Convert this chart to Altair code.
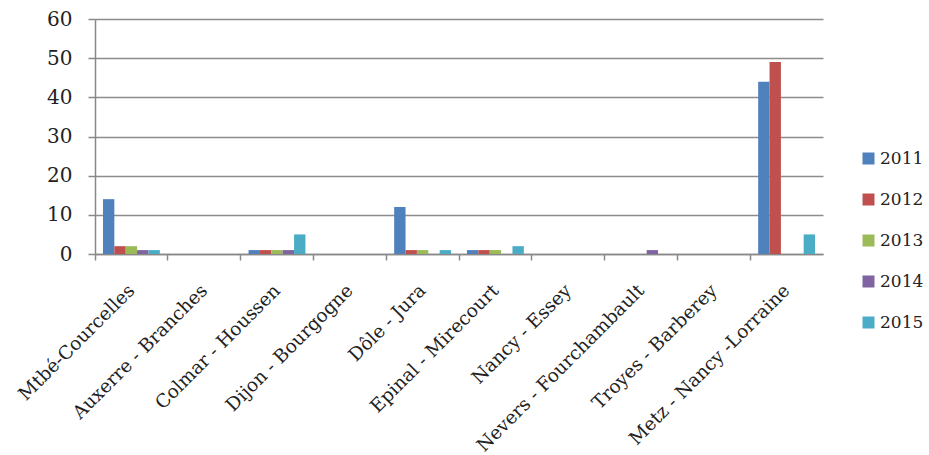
import altair as alt
import pandas as pd

categories = ["Mtbé-Courcelles", "Auxerre - Branches", "Colmar - Houssen", "Dijon - Bourgogne",
              "Dôle - Jura", "Epinal - Mirecourt", "Nancy - Essey", "Nevers - Fourchambault",
              "Troyes - Barberey", "Metz - Nancy -Lorraine"]
years = ["2011", "2012", "2013", "2014", "2015"]
v2011 = [14, 0, 1, 0, 12, 1, 0, 0, 0, 44]
v2012 = [2, 0, 1, 0, 1, 1, 0, 0, 0, 49]
v2013 = [2, 0, 1, 0, 1, 1, 0, 0, 0, 0]
v2014 = [1, 0, 1, 0, 0, 0, 0, 1, 0, 0]
v2015 = [1, 0, 5, 0, 1, 2, 0, 0, 0, 5]
colors = ["#4F81BD", "#C0504D", "#9BBB59", "#8064A2", "#4BACC6"]

rows = []
for y, vals in zip(years, [v2011, v2012, v2013, v2014, v2015]):
    for c, v in zip(categories, vals):
        rows.append({"cat": c, "year": y, "value": v})
df = pd.DataFrame(rows)

FONT = "DejaVu Serif"

chart = alt.Chart(df).mark_bar().encode(
    x=alt.X("cat:N", sort=categories, title=None,
            scale=alt.Scale(paddingInner=0, paddingOuter=0),
            axis=alt.Axis(labelAngle=-45, labelAlign="right", labelBaseline="middle",
                          labelFont=FONT, labelFontSize=18.5, labelColor="#222",
                          bandPosition=0, tickSize=6, tickColor="#888", domainColor="#888",
                          domainWidth=1.5, tickWidth=1.5, labelPadding=27, grid=False,
                          labelOverlap=False, labelLimit=0)),
    xOffset=alt.XOffset("year:N", scale=alt.Scale(paddingOuter=0.7, paddingInner=0)),
    y=alt.Y("value:Q", title=None, scale=alt.Scale(domain=[0, 60], nice=False),
            axis=alt.Axis(values=[0, 10, 20, 30, 40, 50, 60], labelFont=FONT, labelFontSize=20,
                          labelColor="#222", tickSize=7, tickColor="#888", tickWidth=1.5,
                          domainColor="#888", domainWidth=1.5, gridColor="#8c8c8c",
                          gridWidth=1.5, labelPadding=16)),
    color=alt.Color("year:N", scale=alt.Scale(domain=years, range=colors),
                    legend=alt.Legend(title=None, orient="none", legendX=765, legendY=131,
                                      symbolType="square", symbolSize=144, symbolStrokeWidth=0,
                                      labelFont=FONT, labelFontSize=17, labelColor="#222",
                                      rowPadding=23, padding=0, labelOffset=3)),
).properties(
    width=728, height=235,
    autosize=alt.AutoSizeParams(type="none"),
    padding={"left": 95, "top": 19, "right": 106, "bottom": 201},
).configure_view(stroke=None)

chart.save("out.html", embed_options={"renderer": "svg", "actions": False})
